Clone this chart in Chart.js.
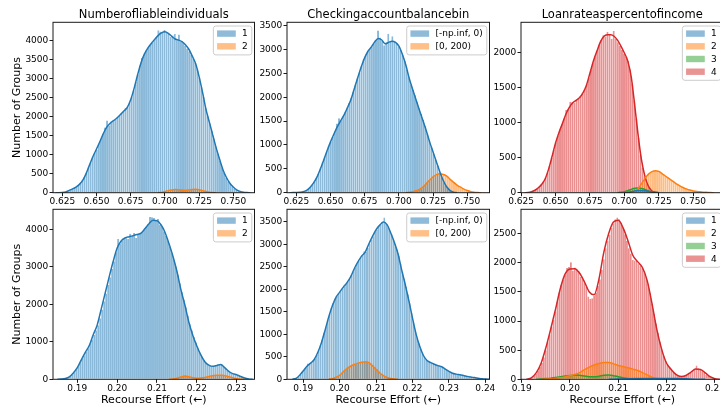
<!DOCTYPE html>
<html>
<head>
<meta charset="utf-8">
<style>
html,body{margin:0;padding:0;background:#fff;overflow:hidden;}
#wrap{position:relative;width:720px;height:408px;overflow:hidden;background:#fff;}
#wrap canvas{position:absolute;left:0;top:0;}
</style>
<script src="https://cdn.jsdelivr.net/npm/chart.js@4.4.1/dist/chart.umd.min.js"></script>
</head>
<body>
<div id="wrap">
<canvas id="c1" width="730" height="408"></canvas>
<canvas id="c2" width="730" height="408"></canvas>
<canvas id="c3" width="730" height="408"></canvas>
<canvas id="c4" width="730" height="408"></canvas>
<canvas id="c5" width="730" height="408"></canvas>
<canvas id="c6" width="730" height="408"></canvas>
</div>
<script>
// ---------------- DATA ----------------
const panelTitles = ['Numberofliableindividuals', 'Checkingaccountbalancebin', 'Loanrateaspercentofincome'];
const labelsNum2 = ['1', '2'];
const labelsChecking = ['[-np.inf, 0)', '[0, 200)'];
const labelsNum4 = ['1', '2', '3', '4'];
const yAxisTitle = 'Number of Groups';
const xAxisTitle = 'Recourse Effort (\u2190)';

// tick values
const xTicksTop = [0.625, 0.650, 0.675, 0.700, 0.725, 0.750];
const xTicksP4 = [0.19, 0.20, 0.21, 0.22, 0.23];
const xTicksP5 = [0.19, 0.20, 0.21, 0.22, 0.23, 0.24];
const xTicksP6 = [0.19, 0.20, 0.21, 0.22, 0.23];
const yTicksP1 = [0, 500, 1000, 1500, 2000, 2500, 3000, 3500, 4000];
const yTicksP2 = [0, 500, 1000, 1500, 2000, 2500, 3000, 3500];
const yTicksP3 = [0, 500, 1000, 1500, 2000];
const yTicksP4 = [0, 1000, 2000, 3000, 4000];
const yTicksP5 = [0, 500, 1000, 1500, 2000, 2500, 3000, 3500];
const yTicksP6 = [0, 500, 1000, 1500, 2000, 2500];

// histogram bin grids (first bin centre, bin width)
const topBinStart = 0.62775, topBinWidth = 0.0015;
const p4BinStart = 0.18525, p4BinWidth = 0.0005;
const p5BinStart = 0.18775, p5BinWidth = 0.0005;
const p6BinStart = 0.1914, p6BinWidth = 0.0004;

// Panel 1 (top-left)
const p1Hist1Offset = 0;
const p1Hist1 = [15,35,70,95,125,160,200,250,330,420, 530,670,800,950,1060,1140,1290,1420,1550,1720,
  1900,1780,1840,1880,1930,1990,2030,2080,2140,2230, 2270,2380,2520,2700,2920,3120,3350,3550,3640,3740,
  3820,3890,3950,4030,4080,4280,4250,4230,4290,4240, 4180,4100,4140,4180,4020,4170,3990,3950,3880,3800,
  3730,3640,3540,3420,3250,3030,2780,2520,2240,2030, 1830,1630,1420,1210,1020,840,670,520,400,300,
  230,170,120,80,50,30,15,8];
const p1Hist2Offset = 47;
const p1Hist2 = [10,25,40,55,65,75,80,85,85,80,70,62,60,65,75,85,90,88,80,65,45,28,15,6,2];
const p1Kde1Start = 0.620, p1Kde1Step = 0.0025;
const p1Kde1 = [0,0,3,20,60,100,150,220,330,510, 740,960,1150,1350,1560,1730,1830,1900,1970,2060,
  2150,2250,2450,2750,3100,3420,3650,3810,3930,4040, 4140,4210,4240,4200,4120,4050,4020,3980,3900,3780,
  3600,3400,3060,2650,2200,1860,1520,1180,880,600, 400,250,150,75,35,12,3,0];
const p1Kde2Start = 0.695, p1Kde2Step = 0.0025;
const p1Kde2 = [0,8,30,55,72,82,80,68,62,70,84,88,78,55,32,15,5,0];

// Panel 2 (top-middle)
const p2Hist1Offset = 0;
const p2Hist1 = [10,15,28,45,80,115,170,230,310,400, 510,640,760,870,980,1070,1170,1290,1450,1560,
  1520,1600,1680,1780,1880,1990,2120,2260,2400,2520, 2660,2800,2880,2960,3010,3060,3130,3200,3400,3250,
  3180,3090,3150,3330,3170,3280,3160,3120,3070,2990, 2880,2760,2580,2420,2270,2160,2040,1900,1770,1650,
  1530,1400,1240,1100,960,820,690,560,430,320, 220,140,85,45,20,8];
const p2Hist2Offset = 52;
const p2Hist2 = [5,12,18,22,35,45,65,90,125,165, 210,255,300,340,365,385,405,395,380,360,
  330,285,245,210,175,145,115,90,70,50, 35,22,12,6,3];
const p2Kde1Start = 0.620, p2Kde1Step = 0.0025;
const p2Kde1 = [0,2,5,10,20,50,110,200,320,490, 680,880,1065,1230,1385,1510,1635,1790,1960,2190,
  2420,2640,2830,2970,3060,3170,3230,3200,3120,3150, 3175,3150,3070,2900,2680,2400,2170,1950,1730,1520,
  1300,1060,850,640,430,250,120,45,12,0];
const p2Kde2Start = 0.705, p2Kde2Step = 0.0025;
const p2Kde2 = [0,8,20,40,70,120,190,265,335,380,398,380,345,280,215,160,115,75,45,22,8,2,0];

// Panel 3 (top-right)
const p3Hist1Offset = 49;
const p3Hist1 = [3,6,10,15,20,25,28,30,32,30,28,25,20,14,8,4,2];
const p3Hist2Offset = 50;
const p3Hist2 = [4,8,14,20,30,45,85,140,190,235, 270,295,310,318,312,300,280,262,240,220,
  200,180,160,140,120,102,88,74,62,50, 42,34,27,22,17,13,10,8,6,4, 3,2];
const p3Hist3Offset = 45;
const p3Hist3 = [2,6,10,15,22,30,40,50,58,65,70,68,62,55,45,32,22,14,8,4,2];
const p3Hist4Offset = 1;
const p3Hist4 = [3,6,14,28,40,60,85,120,160,215, 290,390,500,610,720,810,900,985,1060,1180,
  1200,1300,1300,1290,1330,1350,1380,1420,1480,1560, 1650,1760,1860,1950,2030,2110,2180,2250,2230,2300,
  2270,2200,2310,2200,2150,2100,2040,1990,1940,1880, 1760,1560,1320,1060,780,540,360,230,130,70,
  30,12,4];
const p3Kde1Start = 0.700, p3Kde1Step = 0.0025;
const p3Kde1 = [0,5,15,25,30,30,28,22,12,4,0];
const p3Kde2Start = 0.700, p3Kde2Step = 0.0025;
const p3Kde2 = [0,5,15,22,55,130,205,265,300,315,305,270,235,200,165,130,100,75,55,38,25,18,12,8,5,2,0];
const p3Kde3Start = 0.695, p3Kde3Step = 0.0025;
const p3Kde3 = [0,5,15,30,48,62,68,62,45,25,10,3,0];
const p3Kde4Start = 0.6275, p3Kde4Step = 0.0025;
const p3Kde4 = [0,3,14,35,70,120,200,340,520,710, 860,990,1120,1220,1285,1320,1360,1430,1540,1710,
  1880,2020,2150,2230,2255,2255,2235,2180,2095,1995, 1880,1650,1250,820,460,230,90,25,6,0];

// Panel 4 (bottom-left)
const p4Hist1Offset = 0;
const p4Hist1 = [2,4,8,14,25,45,80,130,190,260, 340,440,540,640,740,830,940,1060,1180,1310,
  1440,1630,1860,2080,2290,2520,2720,2940,3150,3390, 3740,3620,3700,3740,3770,3750,3880,3830,3900,3770,
  3860,3880,3920,3990,4060,4150,4330,4320,4300,4250, 4280,4120,4060,3950,3830,3690,3530,3360,3190,3000,
  2780,2560,2330,2130,1920,1700,1470,1310,1130,990, 830,710,600,510,440,390,370,350,340,355,
  380,400,380,340,290,230,190,150,140,135, 115,90,60,40,22,10,4];
const p4Hist2Offset = 57;
const p4Hist2 = [5,12,22,35,50,65,80,95,85,70,55,40,35,30,32,38,45,55,68,80,92,100,110,115,112,105,92,80,62,45,30,18,8,3];
const p4Kde1Start = 0.185, p4Kde1Step = 0.001;
const p4Kde1 = [0,5,20,65,170,310,520,720,900,1190, 1450,1870,2300,2730,3140,3500,3690,3770,3800,3830,
  3860,3900,4020,4150,4240,4230,4120,3920,3620,3280, 2880,2390,1980,1520,1170,890,650,470,380,345,
  370,395,310,210,150,120,75,35,10,0];
const p4Kde2Start = 0.213, p4Kde2Step = 0.001;
const p4Kde2 = [0,10,30,60,85,70,40,30,35,50,75,95,110,110,95,70,40,15,3,0];

// Panel 5 (bottom-middle)
const p5Hist1Offset = 0;
const p5Hist1 = [8,25,55,100,160,215,260,350,340,380, 410,460,540,650,760,880,1030,1170,1320,1460,
  1600,1700,1790,1860,1910,1960,2010,2060,2130,2170, 2230,2320,2400,2490,2570,2640,2700,2760,2850,2830,
  2920,3020,3100,3180,3290,3340,3400,3450,3480,3600, 3460,3380,3300,3230,3130,3010,2890,2750,2570,2400,
  2230,2060,1890,1690,1480,1270,1090,930,800,680, 580,500,440,410,390,370,355,330,320,305,
  290,270,240,210,190,165,145,130,120,110, 105,95,88,78,68,58,50,42,36,30,
  24,18,12,7,3];
const p5Hist2Offset = 19;
const p5Hist2 = [5,12,22,35,55,80,110,150,190,225, 255,280,300,320,335,345,355,365,375,385,
  395,390,375,350,310,270,230,185,145,110, 80,55,38,25,15,8,4];
const p5Kde1Start = 0.187, p5Kde1Step = 0.001;
const p5Kde1 = [0,20,90,190,290,360,440,600,820,1100, 1390,1640,1830,1940,2050,2150,2280,2460,2610,2740,
  2830,3010,3180,3330,3430,3500,3440,3260,3050,2800, 2440,2110,1750,1360,1000,730,530,420,370,335,
  305,280,225,175,135,115,100,85,65,50, 38,25,12,4,0];
const p5Kde2Start = 0.197, p5Kde2Step = 0.001;
const p5Kde2 = [0,15,45,90,170,240,290,330,360,380,390,370,300,220,140,80,40,18,5,0];

// Panel 6 (bottom-right)
const p6Hist1Offset = 47;
const p6Hist1 = [4,6,8,9,10,11,12,12,13,13,14,14,14,15,15,14,14,14,15,15,14,13,13,12,12,11,10,9,8,7,6,5,4,3,2,2,1];
const p6Hist2Offset = 8;
const p6Hist2 = [3,5,7,9,11,13,15,18,22,27, 32,40,48,55,65,75,85,98,108,125,
  145,165,185,200,215,230,245,258,265,272, 280,290,295,290,285,270,262,252,240,232,
  225,218,210,203,196,186,176,166,156,145, 130,115,100,82,66,50,36,25,16,10, 6,3];
const p6Hist3Offset = 6;
const p6Hist3 = [2,4,6,10,12,15,18,22,26,30, 35,40,45,50,55,60,64,68,72,74,
  72,70,65,58,52,47,44,42,42,45, 50,56,62,68,74,72,70,65,60,53, 46,40,33,27,21,16,12,8,6,4, 2,1];
const p6Hist4Offset = 0;
const p6Hist4 = [5,15,30,55,95,150,210,280,380,500, 640,770,900,1020,1170,1330,1480,1620,1710,1790,
  1910,1930,2010,1870,1920,1880,1860,1760,1720,1650, 1590,1420,1380,1390,1430,1490,1600,1720,1880,2060,
  2250,2380,2480,2600,2680,2750,2780,2750,2690,2600, 2490,2380,2250,2160,2050,2040,2030,1990,1950,1920,
  1860,1760,1640,1480,1300,1120,960,800,640,510, 400,320,260,210,170,130,100,75,55,48,
  50,60,75,95,120,150,175,235,190,165, 140,110,80,55,40,25,14,6];
const p6Kde1Start = 0.208, p6Kde1Step = 0.002;
const p6Kde1 = [0,5,10,12,13,14,14,12,8,3,0];
const p6Kde2Start = 0.194, p6Kde2Step = 0.001;
const p6Kde2 = [0,5,10,15,25,40,60,85,115,165, 210,245,270,288,290,265,238,218,198,175, 150,115,75,35,12,3,0];
const p6Kde3Start = 0.193, p6Kde3Step = 0.001;
const p6Kde3 = [0,5,12,20,30,42,55,65,72,70,58,45,42,52,68,72,62,45,28,15,7,2,0];
const p6Kde4Start = 0.191, p6Kde4Step = 0.001;
const p6Kde4 = [0,25,110,270,540,860,1200,1560,1810,1895, 1900,1820,1670,1500,1450,1720,2180,2500,2700,2730,
  2600,2380,2130,2020,1920,1690,1290,850,510,275, 165,80,48,65,120,175,170,110,45,10, 0];

// axis ranges
const xRanges = [[0.6182,0.7655],[0.6182,0.7662],[0.6249,0.772],[0.1839,0.23447],[0.18552,0.24115],[0.18986,0.23178]];
const yMaxes = [4490,3571,2434,4533,3782,2919];
const xTickSets = [xTicksTop, xTicksTop, xTicksTop, xTicksP4, xTicksP5, xTicksP6];
const yTickSets = [yTicksP1, yTicksP2, yTicksP3, yTicksP4, yTicksP5, yTicksP6];

// ---------------- STYLE / LAYOUT ----------------
const COL = {blue:[31,119,180], orange:[255,127,14], green:[44,160,44], red:[214,39,40]};
const rgba = (c,a) => `rgba(${c[0]},${c[1]},${c[2]},${a})`;
const FONT = "'DejaVu Sans', sans-serif";
Chart.defaults.font.family = FONT;
Chart.defaults.color = '#000';

const areas = [
  {L:53, T:22.3, R:254.5, B:192.7},
  {L:287, T:22.3, R:489.5, B:192.7},
  {L:521, T:22.3, R:723.5, B:192.7},
  {L:53, T:209.3, R:254.5, B:379.3},
  {L:287, T:209.3, R:489.5, B:379.3},
  {L:521, T:209.3, R:723.5, B:379.3}
];
const CW = 730, CH = 408;

const decor = {
  id: 'decor',
  afterDraw(chart, args, opts) {
    const ctx = chart.ctx, a = chart.chartArea;
    ctx.save();
    ctx.strokeStyle = '#1a1a1a';
    ctx.lineWidth = 1;
    ctx.strokeRect(a.left, a.top, a.right - a.left, a.bottom - a.top);
    if (opts.title) {
      ctx.fillStyle = '#000';
      ctx.font = `11.5px ${FONT}`;
      ctx.textAlign = 'center';
      ctx.textBaseline = 'alphabetic';
      ctx.fillText(opts.title, (a.left + a.right) / 2, a.top - 4);
    }
    const items = chart.data.datasets.filter(d => d.type === 'bar');
    ctx.font = `9px ${FONT}`;
    let tw = 0;
    items.forEach(d => { tw = Math.max(tw, ctx.measureText(d.label).width); });
    const bw = 3.7 + 18.7 + 6.3 + tw + 4;
    const bh = items.length * 12.7 + 3.5;
    const bx = a.right - 2.7 - bw, by = a.top + 3.7;
    ctx.beginPath();
    if (ctx.roundRect) ctx.roundRect(bx, by, bw, bh, 2.5); else ctx.rect(bx, by, bw, bh);
    ctx.fillStyle = 'rgba(255,255,255,0.8)';
    ctx.fill();
    ctx.strokeStyle = '#cccccc';
    ctx.lineWidth = 1;
    ctx.stroke();
    items.forEach((d, i) => {
      const cy = by + 7.6 + i * 12.7;
      ctx.fillStyle = d.legendColor;
      ctx.fillRect(bx + 3.7, cy - 3.2, 18.7, 6.4);
      ctx.fillStyle = '#000';
      ctx.textAlign = 'left';
      ctx.textBaseline = 'middle';
      ctx.fillText(d.label, bx + 3.7 + 18.7 + 6.3, cy + 0.5);
    });
    ctx.restore();
  }
};

function histData(start, width, offset, values) {
  return values.map((v, i) => ({x: start + (offset + i) * width, y: v}));
}
function kdeData(start, step, values) {
  return values.map((v, i) => ({x: start + i * step, y: v}));
}

const panels = [
  {title: panelTitles[0], binStart: topBinStart, binWidth: topBinWidth, series: [
    {label: labelsNum2[0], color: COL.blue, hist: p1Hist1, off: p1Hist1Offset, kde: p1Kde1, ks: p1Kde1Start, kst: p1Kde1Step},
    {label: labelsNum2[1], color: COL.orange, hist: p1Hist2, off: p1Hist2Offset, kde: p1Kde2, ks: p1Kde2Start, kst: p1Kde2Step}]},
  {title: panelTitles[1], binStart: topBinStart, binWidth: topBinWidth, series: [
    {label: labelsChecking[0], color: COL.blue, hist: p2Hist1, off: p2Hist1Offset, kde: p2Kde1, ks: p2Kde1Start, kst: p2Kde1Step},
    {label: labelsChecking[1], color: COL.orange, hist: p2Hist2, off: p2Hist2Offset, kde: p2Kde2, ks: p2Kde2Start, kst: p2Kde2Step}]},
  {title: panelTitles[2], binStart: topBinStart, binWidth: topBinWidth, series: [
    {label: labelsNum4[0], color: COL.blue, hist: p3Hist1, off: p3Hist1Offset, kde: p3Kde1, ks: p3Kde1Start, kst: p3Kde1Step},
    {label: labelsNum4[1], color: COL.orange, hist: p3Hist2, off: p3Hist2Offset, kde: p3Kde2, ks: p3Kde2Start, kst: p3Kde2Step},
    {label: labelsNum4[2], color: COL.green, hist: p3Hist3, off: p3Hist3Offset, kde: p3Kde3, ks: p3Kde3Start, kst: p3Kde3Step},
    {label: labelsNum4[3], color: COL.red, hist: p3Hist4, off: p3Hist4Offset, kde: p3Kde4, ks: p3Kde4Start, kst: p3Kde4Step}]},
  {title: null, binStart: p4BinStart, binWidth: p4BinWidth, series: [
    {label: labelsNum2[0], color: COL.blue, hist: p4Hist1, off: p4Hist1Offset, kde: p4Kde1, ks: p4Kde1Start, kst: p4Kde1Step},
    {label: labelsNum2[1], color: COL.orange, hist: p4Hist2, off: p4Hist2Offset, kde: p4Kde2, ks: p4Kde2Start, kst: p4Kde2Step}]},
  {title: null, binStart: p5BinStart, binWidth: p5BinWidth, series: [
    {label: labelsChecking[0], color: COL.blue, hist: p5Hist1, off: p5Hist1Offset, kde: p5Kde1, ks: p5Kde1Start, kst: p5Kde1Step},
    {label: labelsChecking[1], color: COL.orange, hist: p5Hist2, off: p5Hist2Offset, kde: p5Kde2, ks: p5Kde2Start, kst: p5Kde2Step}]},
  {title: null, binStart: p6BinStart, binWidth: p6BinWidth, series: [
    {label: labelsNum4[0], color: COL.blue, hist: p6Hist1, off: p6Hist1Offset, kde: p6Kde1, ks: p6Kde1Start, kst: p6Kde1Step},
    {label: labelsNum4[1], color: COL.orange, hist: p6Hist2, off: p6Hist2Offset, kde: p6Kde2, ks: p6Kde2Start, kst: p6Kde2Step},
    {label: labelsNum4[2], color: COL.green, hist: p6Hist3, off: p6Hist3Offset, kde: p6Kde3, ks: p6Kde3Start, kst: p6Kde3Step},
    {label: labelsNum4[3], color: COL.red, hist: p6Hist4, off: p6Hist4Offset, kde: p6Kde4, ks: p6Kde4Start, kst: p6Kde4Step}]}
];

panels.forEach((p, idx) => {
  const a = areas[idx];
  const leftCol = (idx % 3 === 0);
  const bottomRow = idx >= 3;
  const yW = leftCol ? a.L : 40;
  const xH = bottomRow ? CH - a.B : 15;
  const datasets = [];
  p.series.forEach(s => datasets.push({
    type: 'bar', label: s.label,
    data: histData(p.binStart, p.binWidth, s.off, s.hist),
    backgroundColor: rgba(s.color, 0.52), legendColor: rgba(s.color, 0.5),
    borderColor: rgba(s.color, 0.72), borderWidth: {left: 0.5, right: 0, top: 0, bottom: 0}, borderSkipped: false,
    barPercentage: 0.97, categoryPercentage: 1, grouped: false, order: 2
  }));
  p.series.forEach(s => datasets.push({
    type: 'line', label: s.label + ' kde',
    data: kdeData(s.ks, s.kst, s.kde),
    borderColor: rgba(s.color, 1), borderWidth: 1.5, pointRadius: 0,
    cubicInterpolationMode: 'monotone', fill: false, order: 1
  }));
  const gridOpts = {drawOnChartArea: false, drawTicks: true, tickLength: 3.5, color: '#000', lineWidth: 0.9, offset: false};
  const dec = bottomRow ? 2 : 3;
  const xt = xTickSets[idx], yt = yTickSets[idx];
  new Chart(document.getElementById('c' + (idx + 1)), {
    type: 'bar',
    data: {datasets},
    plugins: [decor],
    options: {
      responsive: false, animation: false, events: [],
      layout: {padding: {left: a.L - yW, top: a.T, right: CW - a.R, bottom: CH - a.B - xH}},
      plugins: {legend: {display: false}, tooltip: {enabled: false}, title: {display: false},
        decor: {title: p.title}},
      scales: {
        x: {type: 'linear', min: xRanges[idx][0], max: xRanges[idx][1], offset: false,
          grid: gridOpts, border: {display: false},
          afterBuildTicks: s => { s.ticks = xt.map(v => ({value: v})); },
          ticks: {autoSkip: false, maxRotation: 0, minRotation: 0,
            padding: 0, font: {size: 9}, color: '#000', callback: v => Number(v).toFixed(dec)},
          title: {display: bottomRow, text: xAxisTitle, font: {size: 11}, color: '#000', padding: {top: 0, bottom: 1.4}},
          afterFit: s => { s.height = xH; }
        },
        y: {type: 'linear', min: 0, max: yMaxes[idx],
          grid: gridOpts, border: {display: false},
          afterBuildTicks: s => { s.ticks = yt.map(v => ({value: v})); },
          ticks: {autoSkip: false, padding: 1.2, font: {size: 9}, color: '#000',
            callback: v => String(Math.round(v))},
          title: {display: leftCol, text: yAxisTitle, font: {size: 11}, color: '#000', padding: {top: 11, bottom: 0}},
          afterFit: s => { s.width = yW; }
        }
      }
    }
  });
});
</script>
</body>
</html>
